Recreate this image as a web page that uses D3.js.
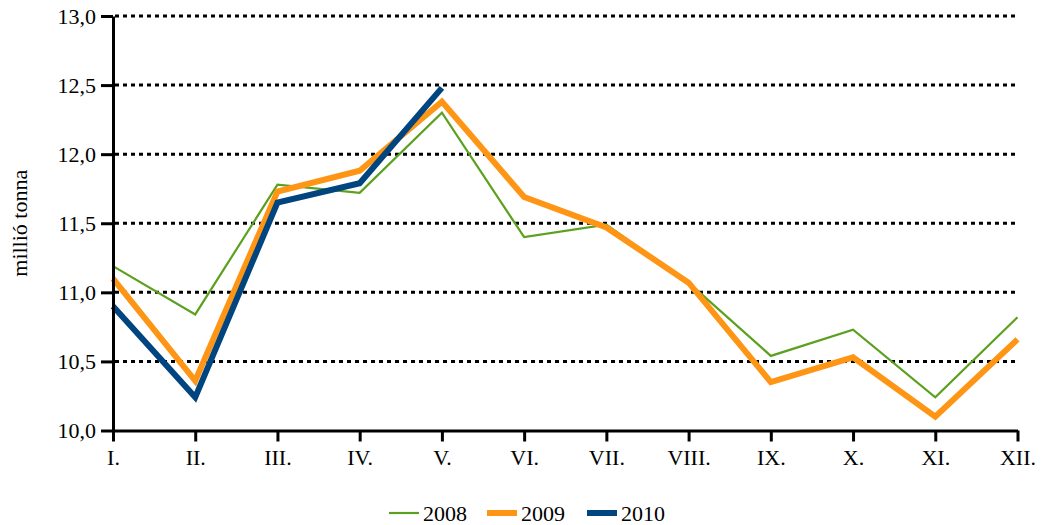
<!DOCTYPE html>
<html>
<head>
<meta charset="utf-8">
<script src="https://cdn.jsdelivr.net/npm/d3@7"></script>
<style>
  body { margin: 0; background: #fff; }
</style>
</head>
<body>
<svg id="chart" width="1048" height="525"></svg>
<script>
const months = ['I.', 'II.', 'III.', 'IV.', 'V.', 'VI.', 'VII.', 'VIII.', 'IX.', 'X.', 'XI.', 'XII.'];
const yTicks = [10.0, 10.5, 11.0, 11.5, 12.0, 12.5, 13.0];

const values2008 = [11.19, 10.84, 11.78, 11.72, 12.30, 11.40, 11.49, 11.07, 10.54, 10.73, 10.24, 10.82];
const values2009 = [11.10, 10.36, 11.73, 11.88, 12.38, 11.69, 11.47, 11.07, 10.35, 10.53, 10.10, 10.66];
const values2010 = [10.90, 10.24, 11.65, 11.79, 12.48];

const series = [
  {name: '2008', values: values2008, color: '#5ba01e', width: 2.2},
  {name: '2009', values: values2009, color: '#ff9514', width: 6},
  {name: '2010', values: values2010, color: '#00457f', width: 6},
];

const fontFamily = '"Liberation Serif", "Times New Roman", "DejaVu Serif", serif';

const svg = d3.select('#chart')
  .attr('font-family', fontFamily);
const margin = {top: 16, left: 113, right: 30, bottom: 94};
const width = 1048;
const height = 525;

const x = d3.scalePoint()
  .domain(months)
  .range([margin.left, width - margin.right - 0.5]);

const y = d3.scaleLinear()
  .domain([10, 13])
  .range([height - margin.bottom - 0.5, margin.top]);

const fmt = d3.formatLocale({decimal: ',', thousands: ' ', grouping: [3], currency: ['', '']}).format('.1f');

// gridlines
svg.append('g')
  .selectAll('line')
  .data(yTicks.filter(d => d > 10))
  .join('line')
    .attr('x1', margin.left + 2)
    .attr('x2', width - margin.right)
    .attr('y1', d => y(d))
    .attr('y2', d => y(d))
    .attr('stroke', '#000')
    .attr('stroke-width', 3)
    .attr('stroke-dasharray', '4,4');

// lines
const line = d3.line()
  .x((d, i) => x(months[i]))
  .y(d => y(d));

svg.append('g')
  .selectAll('path')
  .data(series)
  .join('path')
    .attr('d', d => line(d.values))
    .attr('fill', 'none')
    .attr('stroke', d => d.color)
    .attr('stroke-width', d => d.width)
    .attr('stroke-linejoin', 'miter');

// y axis
const yAxis = d3.axisLeft(y)
  .tickValues(yTicks)
  .tickFormat(fmt)
  .tickSize(12)
  .tickSizeOuter(0)
  .tickPadding(5);

const gy = svg.append('g')
  .attr('transform', `translate(${margin.left},0)`)
  .call(yAxis)
  .attr('font-family', fontFamily)
  .attr('font-size', 22);
gy.select('.domain').attr('stroke-width', 3);
gy.selectAll('.tick line').attr('stroke-width', 3);

// x axis
const xAxis = d3.axisBottom(x)
  .tickSize(11)
  .tickSizeOuter(0)
  .tickPadding(8);

const gx = svg.append('g')
  .attr('transform', `translate(0,${y(10)})`)
  .call(xAxis)
  .attr('font-family', fontFamily)
  .attr('font-size', 22);
gx.select('.domain').attr('stroke-width', 3);
gx.selectAll('.tick line').attr('stroke-width', 3);

// y title
svg.append('text')
  .attr('transform', `translate(27,${y(11.5)}) rotate(-90)`)
  .attr('text-anchor', 'middle')
  .attr('font-size', 22)
  .text('millió tonna');

// legend
const legendX = [389, 487, 587];
const legend = svg.append('g')
  .selectAll('g')
  .data(series)
  .join('g')
    .attr('transform', (d, i) => `translate(${legendX[i]},513)`);

legend.append('line')
  .attr('x1', 0)
  .attr('x2', 30)
  .attr('stroke', d => d.color)
  .attr('stroke-width', d => d.width);

legend.append('text')
  .attr('x', 34)
  .attr('dy', '0.35em')
  .attr('font-size', 22)
  .text(d => d.name);
</script>
</body>
</html>
